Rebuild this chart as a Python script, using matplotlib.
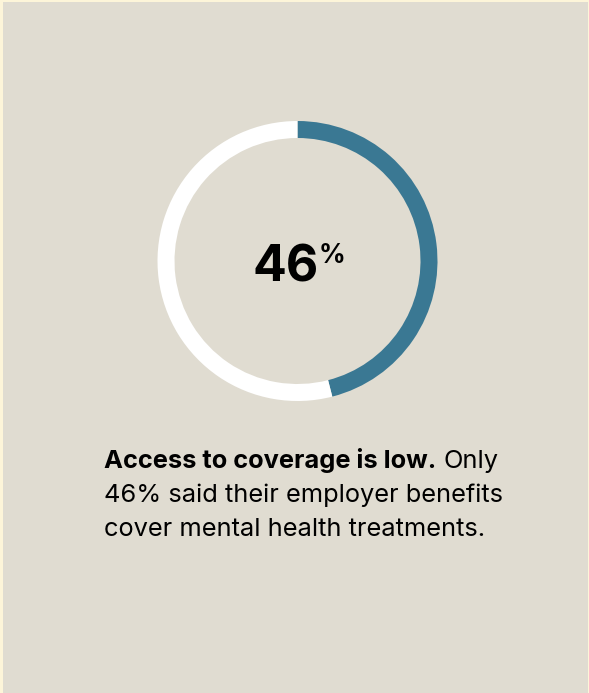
import matplotlib
matplotlib.use("Agg")
import matplotlib.pyplot as plt
from matplotlib.patches import Rectangle

# Data
share_values = [46, 54]
share_labels = ["Covered", "Not covered"]
big_number = "46"
big_suffix = "%"
headline = "Access to coverage is low."
body_first = "Only"
body_lines = ["46% said their employer benefits", "cover mental health treatments."]

W, H = 589, 693
BG = "#e0dcd1"
EDGE = "#fdf5d9"
BLUE = "#3a7893"
FONT = "Inter"

fig = plt.figure(figsize=(W / 100, H / 100), dpi=100, facecolor=EDGE)
ax = fig.add_axes([0, 0, 1, 1])
ax.set_facecolor(EDGE)

def py(y):
    return H - y

# Donut
cx, cy, r, w = 297.5, 261, 140, 17
ax.pie(share_values, colors=[BLUE, "white"], startangle=90, counterclock=False,
       center=(cx, py(cy)), radius=r, wedgeprops=dict(width=w, linewidth=0),
       frame=False)
ax.set_xlim(0, W)
ax.set_ylim(0, H)
ax.set_aspect("auto")
ax.axis("off")

# background panel
ax.add_patch(Rectangle((3, 0), W - 4, H - 2, facecolor=BG, edgecolor="none", zorder=-5))

# Central number
ax.text(319, py(282), big_number, ha="right", va="baseline", fontsize=36,
        fontweight="bold", family=FONT, color="black")
ax.text(319, py(243), big_suffix, ha="left", va="top", fontsize=19,
        fontweight="bold", family=FONT, color="black")

# Caption
x0 = 104
fs = 18.3
base = [468, 502, 536]
t1 = ax.text(x0, py(base[0]), headline, ha="left", va="baseline", fontsize=fs,
             fontweight="bold", family=FONT, color="black")
fig.canvas.draw()
bb = t1.get_window_extent()
ax.text(bb.x1 + 7, py(base[0]), body_first, ha="left", va="baseline", fontsize=fs,
        family=FONT, color="black")
for i, line in enumerate(body_lines):
    ax.text(x0, py(base[i + 1]), line, ha="left", va="baseline", fontsize=fs,
            family=FONT, color="black")

fig.savefig("out.png", dpi=100, facecolor=EDGE)
